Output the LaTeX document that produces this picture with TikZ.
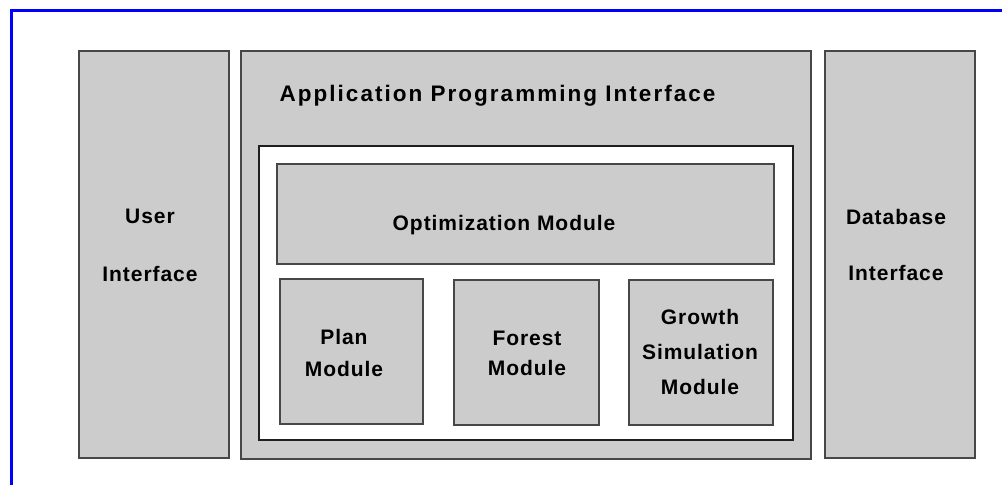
\documentclass[tikz,border=0pt]{standalone}
\usepackage{fontspec}
\newfontfamily\modfont[LetterSpace=4.5]{Liberation Sans}
\newfontfamily\apifont[LetterSpace=9]{Liberation Sans}
\usetikzlibrary{positioning}
\tikzset{
  frm/.style={draw=blue, line width=2.2pt},
  panel/.style={
    draw=black!72, line width=1.7pt, fill=black!20,
    inner sep=0pt, anchor=north west
  },
  hole/.style={panel, draw=black!88, fill=white},
  lbl/.style={
    font=\modfont\bfseries\fontsize{21}{33}\selectfont,
    align=center, inner sep=0pt
  },
  ttl/.style={font=\apifont\bfseries\fontsize{22.5}{26}\selectfont, inner sep=0pt}
}

\begin{document}
\begin{tikzpicture}[x=1pt, y=-1pt]
  \useasboundingbox (0,0) rectangle (1002,485);

  \coordinate (fb) at (11.5,485);
  \coordinate (fc) at (11.5,10.5);
  \coordinate (fr) at (1002,10.5);
  \draw[frm] (fb) -- (fc) -- (fr);

  % outer columns
  \node[panel, minimum width=150pt, minimum height=407pt] (ui)  at (78,50)  {};
  \node[panel, minimum width=570pt, minimum height=408pt] (api) at (240,50) {};
  \node[panel, minimum width=150pt, minimum height=407pt] (db)  at (824,50) {};

  % modules
  \node[hole,  minimum width=534pt, minimum height=294pt] (core) at (258,145) {};
  \node[panel, minimum width=497pt, minimum height=100pt] (opt)  at (276,163) {};
  \node[panel, minimum width=143pt, minimum height=145pt] (plan) at (279,278) {};
  \node[panel, minimum width=145pt, minimum height=145pt] (for)  at (453,279) {};
  \node[panel, minimum width=144pt, minimum height=145pt] (grw)  at (628,279) {};

  \node[ttl] (apit) at (497.5,95.5) {Application Programming Interface};
  \node[lbl] (uit)   at (150,245.5) {User\\[25pt]Interface};
  \node[lbl] (dbt)   at (896,244.5) {Database\\[23pt]Interface};
  \node[lbl] (optt)  at (504,225.5) {Optimization Module};
  \node[lbl] (plant) at (344,353)   {Plan\\[-1pt]Module};
  \node[lbl] (fort)  at (527,353)   {Forest\\[-3pt]Module};
  \node[lbl] (grwt)  at (700,351.5) {Growth\\[2pt]Simulation\\[2pt]Module};

\end{tikzpicture}
\end{document}
